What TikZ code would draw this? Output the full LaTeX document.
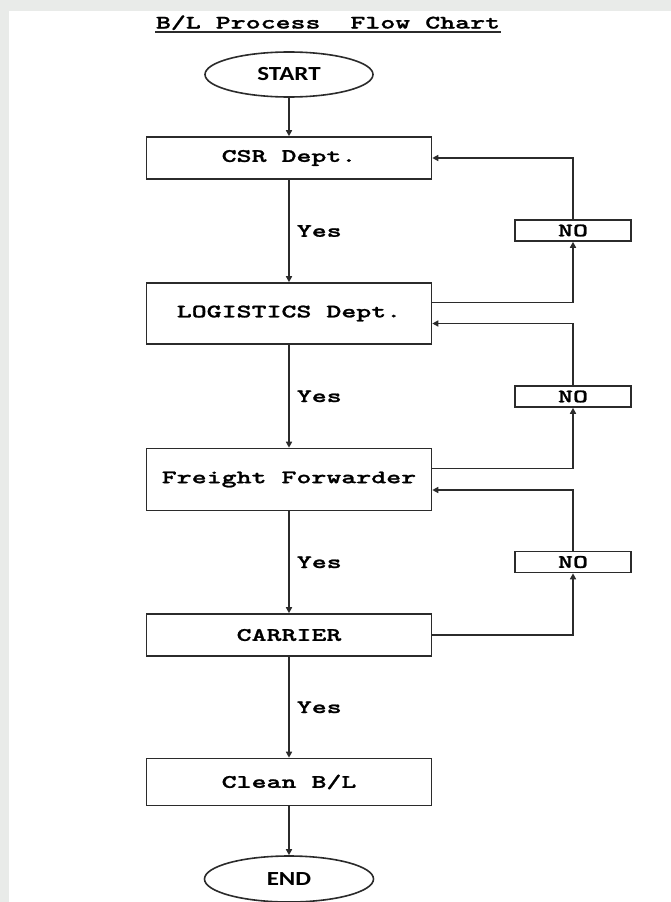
\documentclass[tikz,border=0pt]{standalone}
\usepackage{fontspec}
\usepackage{xcolor}
\usepackage{tikz}
\usetikzlibrary{arrows.meta,shapes}
\newfontfamily\monofont{lmmono10-regular.otf}[FakeStretch=1.5,BoldFont=lmmonolt10-bold.otf,BoldFeatures={FakeStretch=1.5,FakeBold=1.2}]
\newfontfamily\termfont[FakeStretch=1.25]{Carlito}
\definecolor{linegray}{HTML}{2B2B2B}
\definecolor{bggray}{HTML}{E9EBE9}

\begin{document}
\begin{tikzpicture}[x=1pt,y=-1pt,line width=1.6pt,draw=linegray,
  >={Triangle[length=6pt,width=6pt]},
  proc/.style={draw=linegray,rectangle,minimum width=285pt,inner sep=0pt,font=\monofont\fontsize{19}{22}\selectfont\bfseries},
  term/.style={draw=linegray,ellipse,minimum width=168pt,minimum height=45pt,inner sep=0pt,font=\termfont\fontsize{20}{22}\selectfont\bfseries},
  nobox/.style={draw=linegray,rectangle,minimum width=116pt,minimum height=21pt,inner sep=0pt,font=\monofont\fontsize{19}{22}\selectfont\bfseries},
  lbl/.style={anchor=west,inner sep=0pt,font=\monofont\fontsize{19}{22}\selectfont\bfseries}]
\useasboundingbox (0,0) rectangle (671,902);
\fill[bggray] (0,0) rectangle (671,902);
\fill[white] (9,11) rectangle (671,902);
% title
\node[anchor=base,inner sep=0pt,font=\monofont\fontsize{19}{22}\selectfont\bfseries] (title) at (328,28.5) {B/L Process~~Flow Chart};
\draw[line width=1.3pt] ([yshift=-3.5pt]title.base west) -- ([yshift=-3.5pt]title.base east);
% main column
\node[term] (start) at (289,74.5) {START};
\node[proc,minimum height=42pt] (csr) at (289,158) {CSR Dept.};
\node[proc,minimum height=61pt] (logi) at (289,313.5) {LOGISTICS Dept.};
\node[proc,minimum height=62pt] (ff) at (289,479.5) {Freight Forwarder};
\node[proc,minimum height=42pt] (carrier) at (289,635) {CARRIER};
\node[proc,minimum height=47pt] (clean) at (289,782) {Clean B/L};
\node[term,minimum width=169pt,minimum height=46pt] (end) at (289,879) {END};
% NO boxes
\node[nobox] (no1) at (573,230.5) {NO};
\node[nobox] (no2) at (573,396.5) {NO};
\node[nobox] (no3) at (573,562) {NO};
% Yes arrows
\draw[->] (start) -- (csr);
\draw[->] (csr) -- node[lbl,pos=0.5,xshift=7pt]{Yes} (logi);
\draw[->] (logi) -- node[lbl,pos=0.5,xshift=7pt]{Yes} (ff);
\draw[->] (ff) -- node[lbl,pos=0.5,xshift=7pt]{Yes} (carrier);
\draw[->] (carrier) -- node[lbl,pos=0.5,xshift=7pt]{Yes} (clean);
\draw[->] (clean) -- (end);
% NO loops
\draw[->] ([yshift=11pt]logi.east) -| (no1.south);
\draw[->] (no1.north) |- (csr.east);
\draw[->] ([yshift=11pt]ff.east) -| (no2.south);
\draw[->] (no2.north) |- ([yshift=-10pt]logi.east);
\draw[->] (carrier.east) -| (no3.south);
\draw[->] (no3.north) |- ([yshift=-10.5pt]ff.east);
\end{tikzpicture}
\end{document}
